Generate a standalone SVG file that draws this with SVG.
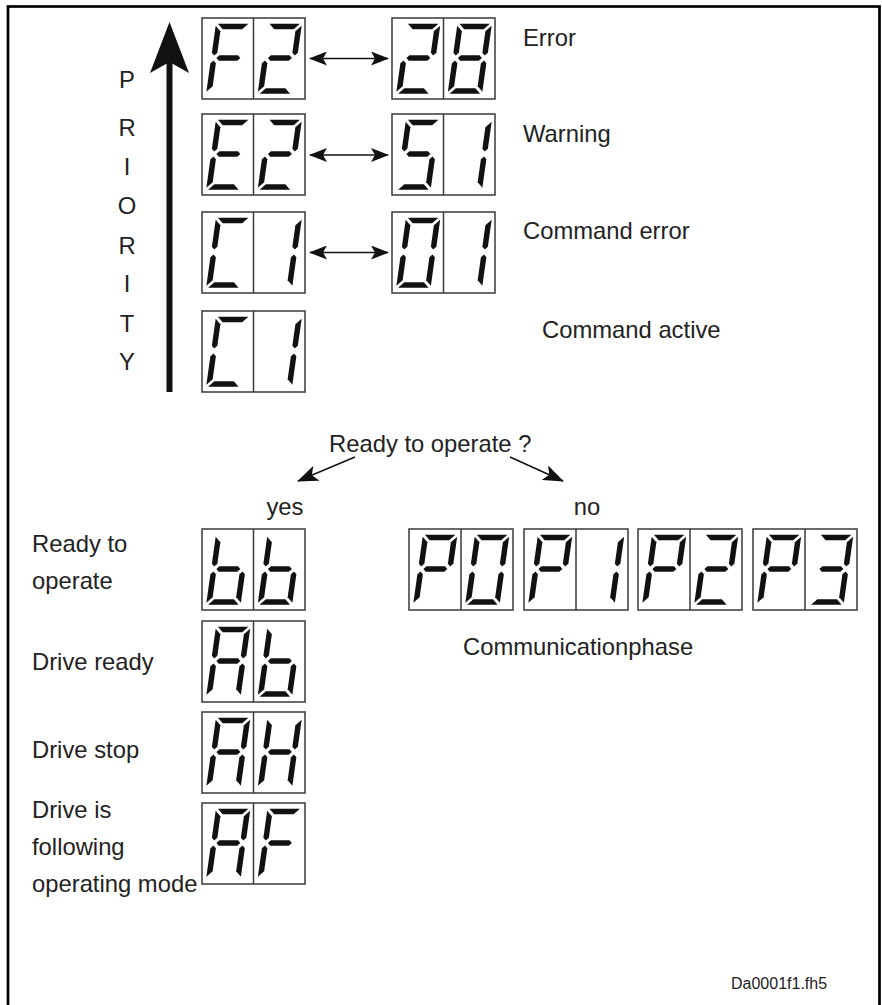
<svg xmlns="http://www.w3.org/2000/svg" xmlns:xlink="http://www.w3.org/1999/xlink" width="882" height="1005" viewBox="0 0 882 1005">
<style>
.box{fill:#fff;stroke:#3a3a3a;stroke-width:1.5}
.div{stroke:#3a3a3a;stroke-width:1.5}
.seg{fill:#111}
.t{font-family:"Liberation Sans",Arial,sans-serif;font-size:23.8px;fill:#222}
.conn{stroke:#111;stroke-width:1.6;fill:none}
</style>
<defs>
<polygon id="sA" class="seg" points="12.25,5.75 42.75,5.75 37.25,11.25 17.75,11.25"/>
<polygon id="sB" class="seg" points="44.75,7.75 44.75,34.75 42,37.5 39.25,34.75 39.25,13.25"/>
<polygon id="sC" class="seg" points="42,42.5 44.75,45.25 44.75,73.75 39.25,68.25 39.25,45.25"/>
<polygon id="sD" class="seg" points="17.75,70.25 37.25,70.25 42.75,75.75 12.25,75.75"/>
<polygon id="sE" class="seg" points="13,42.5 15.75,45.25 15.75,68.25 10.25,73.75 10.25,45.25"/>
<polygon id="sF" class="seg" points="10.25,7.75 15.75,13.25 15.75,34.75 13,37.5 10.25,34.75"/>
<polygon id="sG" class="seg" points="15.5,40 18.25,37.25 36.75,37.25 39.5,40 36.75,42.75 18.25,42.75"/>
<g id="g0" transform="translate(4.5,0) skewX(-8)"><use href="#sA"/><use href="#sB"/><use href="#sC"/><use href="#sD"/><use href="#sE"/><use href="#sF"/></g>
<g id="g1" transform="translate(4.5,0) skewX(-8)"><use href="#sB"/><use href="#sC"/></g>
<g id="g2" transform="translate(4.5,0) skewX(-8)"><use href="#sA"/><use href="#sB"/><use href="#sG"/><use href="#sE"/><use href="#sD"/></g>
<g id="g3" transform="translate(4.5,0) skewX(-8)"><use href="#sA"/><use href="#sB"/><use href="#sG"/><use href="#sC"/><use href="#sD"/></g>
<g id="g5" transform="translate(4.5,0) skewX(-8)"><use href="#sA"/><use href="#sF"/><use href="#sG"/><use href="#sC"/><use href="#sD"/></g>
<g id="g8" transform="translate(4.5,0) skewX(-8)"><use href="#sA"/><use href="#sB"/><use href="#sC"/><use href="#sD"/><use href="#sE"/><use href="#sF"/><use href="#sG"/></g>
<g id="gA" transform="translate(4.5,0) skewX(-8)"><use href="#sA"/><use href="#sB"/><use href="#sC"/><use href="#sE"/><use href="#sF"/><use href="#sG"/></g>
<g id="gb" transform="translate(4.5,0) skewX(-8)"><use href="#sF"/><use href="#sE"/><use href="#sG"/><use href="#sC"/><use href="#sD"/></g>
<g id="gC" transform="translate(4.5,0) skewX(-8)"><use href="#sA"/><use href="#sF"/><use href="#sE"/><use href="#sD"/></g>
<g id="gE" transform="translate(4.5,0) skewX(-8)"><use href="#sA"/><use href="#sF"/><use href="#sG"/><use href="#sE"/><use href="#sD"/></g>
<g id="gF" transform="translate(4.5,0) skewX(-8)"><use href="#sA"/><use href="#sF"/><use href="#sG"/><use href="#sE"/></g>
<g id="gH" transform="translate(4.5,0) skewX(-8)"><use href="#sB"/><use href="#sC"/><use href="#sE"/><use href="#sF"/><use href="#sG"/></g>
<g id="gP" transform="translate(4.5,0) skewX(-8)"><use href="#sA"/><use href="#sB"/><use href="#sF"/><use href="#sG"/><use href="#sE"/></g>
<marker id="ah" viewBox="0 0 18 14" refX="17" refY="7" markerWidth="18" markerHeight="14" markerUnits="userSpaceOnUse" orient="auto-start-reverse"><path d="M0,0 L18,7 L0,14 L4,7 z" fill="#111"/></marker>
<marker id="ah2" viewBox="0 0 21 16" refX="20" refY="8" markerWidth="21" markerHeight="16" markerUnits="userSpaceOnUse" orient="auto"><path d="M0,0 L21,8 L0,16 L5,8 z" fill="#111"/></marker>
</defs>
<rect x="0" y="0" width="882" height="1005" fill="#fff"/>
<rect x="8" y="6.5" width="871.5" height="1010" fill="none" stroke="#000" stroke-width="2.7"/>

<g id="priority">
<rect x="166.5" y="60" width="6" height="332" fill="#111"/>
<polygon points="169.5,22 189,73 169.5,62 150,73" fill="#111"/>
<g class="t" text-anchor="middle">
<text x="127" y="88">P</text>
<text x="127" y="136">R</text>
<text x="127" y="175">I</text>
<text x="127" y="214">O</text>
<text x="127" y="254">R</text>
<text x="127" y="292">I</text>
<text x="127" y="332">T</text>
<text x="127" y="370">Y</text>
</g>
</g>

<g id="connectors">
<line class="conn" x1="310" y1="58.5" x2="388" y2="58.5" marker-start="url(#ah)" marker-end="url(#ah)"/>
<line class="conn" x1="310" y1="155" x2="388" y2="155" marker-start="url(#ah)" marker-end="url(#ah)"/>
<line class="conn" x1="310" y1="252.5" x2="388" y2="252.5" marker-start="url(#ah)" marker-end="url(#ah)"/>
<line class="conn" x1="355" y1="457" x2="298" y2="481" marker-end="url(#ah2)"/>
<line class="conn" x1="510" y1="457" x2="563" y2="481" marker-end="url(#ah2)"/>
</g>

<g id="d-F2"><rect class="box" x="202" y="18" width="103" height="81"/><line class="div" x1="253.5" y1="18" x2="253.5" y2="99"/><use href="#gF" x="202" y="18"/><use href="#g2" x="253.5" y="18"/></g>
<g id="d-28"><rect class="box" x="392" y="18" width="103" height="81"/><line class="div" x1="443.5" y1="18" x2="443.5" y2="99"/><use href="#g2" x="392" y="18"/><use href="#g8" x="443.5" y="18"/></g>
<g id="d-E2"><rect class="box" x="202" y="114" width="103" height="81"/><line class="div" x1="253.5" y1="114" x2="253.5" y2="195"/><use href="#gE" x="202" y="114"/><use href="#g2" x="253.5" y="114"/></g>
<g id="d-51"><rect class="box" x="392" y="114" width="103" height="81"/><line class="div" x1="443.5" y1="114" x2="443.5" y2="195"/><use href="#g5" x="392" y="114"/><use href="#g1" x="443.5" y="114"/></g>
<g id="d-C1a"><rect class="box" x="202" y="212" width="103" height="81"/><line class="div" x1="253.5" y1="212" x2="253.5" y2="293"/><use href="#gC" x="202" y="212"/><use href="#g1" x="253.5" y="212"/></g>
<g id="d-01"><rect class="box" x="392" y="212" width="103" height="81"/><line class="div" x1="443.5" y1="212" x2="443.5" y2="293"/><use href="#g0" x="392" y="212"/><use href="#g1" x="443.5" y="212"/></g>
<g id="d-C1b"><rect class="box" x="202" y="311" width="103" height="81"/><line class="div" x1="253.5" y1="311" x2="253.5" y2="392"/><use href="#gC" x="202" y="311"/><use href="#g1" x="253.5" y="311"/></g>

<g id="d-bb"><rect class="box" x="202" y="529" width="103" height="81"/><line class="div" x1="253.5" y1="529" x2="253.5" y2="610"/><use href="#gb" x="202" y="529"/><use href="#gb" x="253.5" y="529"/></g>
<g id="d-Ab"><rect class="box" x="202" y="621" width="103" height="81"/><line class="div" x1="253.5" y1="621" x2="253.5" y2="702"/><use href="#gA" x="202" y="621"/><use href="#gb" x="253.5" y="621"/></g>
<g id="d-AH"><rect class="box" x="202" y="712" width="103" height="81"/><line class="div" x1="253.5" y1="712" x2="253.5" y2="793"/><use href="#gA" x="202" y="712"/><use href="#gH" x="253.5" y="712"/></g>
<g id="d-AF"><rect class="box" x="202" y="803" width="103" height="81"/><line class="div" x1="253.5" y1="803" x2="253.5" y2="884"/><use href="#gA" x="202" y="803"/><use href="#gF" x="253.5" y="803"/></g>

<g id="d-P0"><rect class="box" x="409" y="529" width="104" height="81"/><line class="div" x1="461" y1="529" x2="461" y2="610"/><use href="#gP" x="409" y="529"/><use href="#g0" x="461" y="529"/></g>
<g id="d-P1"><rect class="box" x="524" y="529" width="104" height="81"/><line class="div" x1="576" y1="529" x2="576" y2="610"/><use href="#gP" x="524" y="529"/><use href="#g1" x="576" y="529"/></g>
<g id="d-P2"><rect class="box" x="638" y="529" width="104" height="81"/><line class="div" x1="690" y1="529" x2="690" y2="610"/><use href="#gP" x="638" y="529"/><use href="#g2" x="690" y="529"/></g>
<g id="d-P3"><rect class="box" x="753" y="529" width="104" height="81"/><line class="div" x1="805" y1="529" x2="805" y2="610"/><use href="#gP" x="753" y="529"/><use href="#g3" x="805" y="529"/></g>

<g id="labels" class="t">
<text x="523" y="46">Error</text>
<text x="523" y="142">Warning</text>
<text x="523" y="239">Command error</text>
<text x="542" y="338">Command active</text>
<text x="329" y="452">Ready to operate ?</text>
<text x="285" y="515" text-anchor="middle">yes</text>
<text x="587" y="515" text-anchor="middle">no</text>
<text x="32" y="552">Ready to</text>
<text x="32" y="589">operate</text>
<text x="32" y="670">Drive ready</text>
<text x="32" y="758">Drive stop</text>
<text x="32" y="818">Drive is</text>
<text x="32" y="855">following</text>
<text x="32" y="892">operating mode</text>
<text x="463" y="655">Communicationphase</text>
<text x="731" y="989" style="font-size:16px">Da0001f1.fh5</text>
</g>
</svg>
